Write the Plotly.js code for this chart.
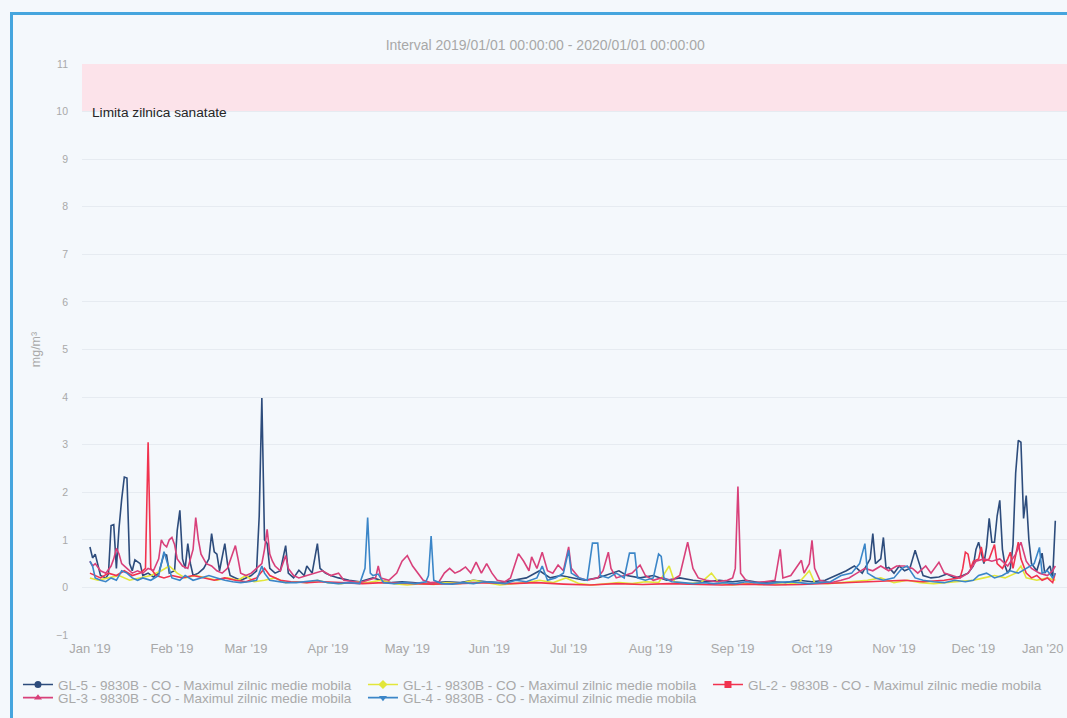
<!DOCTYPE html>
<html>
<head>
<meta charset="utf-8">
<script src="https://cdn.plot.ly/plotly-3.0.1.min.js"></script>
<style>
html,body{margin:0;padding:0;background:#f4f8fc;}
#chart{position:absolute;left:0;top:0;width:1067px;height:718px;}
#frame{position:absolute;left:10px;top:12px;width:1100px;height:760px;border-left:3px solid #45a5de;border-top:3px solid #45a5de;pointer-events:none;}
</style>
</head>
<body>
<div id="chart"></div>
<div id="frame"></div>
<script>
// ---------- DATA ----------
const seriesNames = [
  "GL-5 - 9830B - CO - Maximul zilnic medie mobila",
  "GL-1 - 9830B - CO - Maximul zilnic medie mobila",
  "GL-2 - 9830B - CO - Maximul zilnic medie mobila",
  "GL-3 - 9830B - CO - Maximul zilnic medie mobila",
  "GL-4 - 9830B - CO - Maximul zilnic medie mobila"
];

const monthTickDates = ["2019-01-01","2019-02-01","2019-03-01","2019-04-01","2019-05-01","2019-06-01","2019-07-01","2019-08-01","2019-09-01","2019-10-01","2019-11-01","2019-12-01","2020-01-01"];
const monthTickLabels = ["Jan '19","Feb '19","Mar '19","Apr '19","May '19","Jun '19","Jul '19","Aug '19","Sep '19","Oct '19","Nov '19","Dec '19","Jan '20"];

const gl5Dates = ["2019-01-01","2019-01-02","2019-01-03","2019-01-04","2019-01-05","2019-01-07","2019-01-08","2019-01-09","2019-01-10","2019-01-11","2019-01-12","2019-01-13","2019-01-14","2019-01-15","2019-01-16","2019-01-17","2019-01-18","2019-01-20","2019-01-21","2019-01-23","2019-01-25","2019-01-27","2019-01-29","2019-01-30","2019-01-31","2019-02-02","2019-02-03","2019-02-04","2019-02-05","2019-02-06","2019-02-07","2019-02-08","2019-02-09","2019-02-11","2019-02-13","2019-02-15","2019-02-16","2019-02-17","2019-02-18","2019-02-19","2019-02-21","2019-02-22","2019-02-23","2019-02-25","2019-02-27","2019-03-01","2019-03-03","2019-03-05","2019-03-06","2019-03-07","2019-03-08","2019-03-09","2019-03-10","2019-03-12","2019-03-14","2019-03-16","2019-03-17","2019-03-19","2019-03-21","2019-03-23","2019-03-24","2019-03-26","2019-03-28","2019-03-29","2019-03-31","2019-04-02","2019-04-05","2019-04-09","2019-04-13","2019-04-18","2019-04-21","2019-04-25","2019-04-29","2019-05-03","2019-05-07","2019-05-12","2019-05-16","2019-05-21","2019-05-26","2019-05-31","2019-06-05","2019-06-10","2019-06-15","2019-06-20","2019-06-24","2019-06-28","2019-07-03","2019-07-07","2019-07-12","2019-07-17","2019-07-20","2019-07-23","2019-07-28","2019-08-02","2019-08-07","2019-08-12","2019-08-17","2019-08-22","2019-08-27","2019-09-01","2019-09-06","2019-09-11","2019-09-16","2019-09-21","2019-09-26","2019-10-01","2019-10-06","2019-10-10","2019-10-14","2019-10-17","2019-10-20","2019-10-23","2019-10-24","2019-10-25","2019-10-27","2019-10-28","2019-10-29","2019-10-30","2019-11-01","2019-11-03","2019-11-05","2019-11-07","2019-11-09","2019-11-10","2019-11-12","2019-11-15","2019-11-18","2019-11-21","2019-11-24","2019-11-27","2019-11-29","2019-12-01","2019-12-02","2019-12-03","2019-12-04","2019-12-05","2019-12-06","2019-12-07","2019-12-08","2019-12-09","2019-12-10","2019-12-11","2019-12-12","2019-12-13","2019-12-14","2019-12-15","2019-12-16","2019-12-17","2019-12-18","2019-12-19","2019-12-20","2019-12-21","2019-12-22","2019-12-23","2019-12-25","2019-12-27","2019-12-28","2019-12-30","2019-12-31","2020-01-01"];
const gl5Values = [0.85,0.62,0.70,0.45,0.25,0.20,0.28,1.30,1.32,0.40,1.25,1.85,2.32,2.30,0.50,0.35,0.58,0.50,0.25,0.30,0.22,0.30,0.70,0.68,0.30,0.35,1.20,1.62,0.60,0.40,0.92,0.50,0.25,0.30,0.40,0.60,1.13,0.75,0.70,0.35,0.92,0.50,0.25,0.20,0.15,0.20,0.25,0.35,1.50,3.98,1.00,0.92,0.40,0.30,0.35,0.88,0.30,0.20,0.36,0.25,0.45,0.30,0.92,0.40,0.30,0.25,0.20,0.15,0.12,0.20,0.15,0.10,0.12,0.10,0.08,0.10,0.12,0.10,0.15,0.12,0.10,0.15,0.20,0.35,0.20,0.25,0.20,0.15,0.20,0.30,0.35,0.25,0.20,0.25,0.15,0.20,0.15,0.12,0.15,0.12,0.15,0.10,0.12,0.10,0.15,0.12,0.15,0.25,0.35,0.45,0.30,0.60,1.13,0.50,0.60,1.05,0.40,0.42,0.30,0.45,0.35,0.40,0.78,0.60,0.25,0.20,0.22,0.28,0.20,0.25,0.30,0.45,0.80,0.95,0.70,0.50,0.85,1.45,0.95,0.95,1.50,1.83,0.80,0.45,0.30,0.40,0.90,2.40,3.09,3.05,1.45,1.93,1.00,0.50,0.35,0.72,0.30,0.45,0.20,1.40];

const gl1Dates = ["2019-01-01","2019-01-04","2019-01-08","2019-01-12","2019-01-16","2019-01-20","2019-01-24","2019-01-28","2019-01-31","2019-02-03","2019-02-06","2019-02-10","2019-02-14","2019-02-18","2019-02-22","2019-02-26","2019-03-01","2019-03-04","2019-03-08","2019-03-12","2019-03-16","2019-03-20","2019-03-24","2019-03-28","2019-04-01","2019-04-06","2019-04-11","2019-04-16","2019-04-21","2019-04-26","2019-05-01","2019-05-06","2019-05-11","2019-05-16","2019-05-21","2019-05-26","2019-05-31","2019-06-05","2019-06-10","2019-06-15","2019-06-20","2019-06-25","2019-06-30","2019-07-05","2019-07-10","2019-07-15","2019-07-20","2019-07-25","2019-07-30","2019-08-04","2019-08-08","2019-08-10","2019-08-15","2019-08-20","2019-08-24","2019-08-27","2019-09-01","2019-09-06","2019-09-11","2019-09-16","2019-09-21","2019-09-26","2019-09-30","2019-10-02","2019-10-07","2019-10-12","2019-10-17","2019-10-22","2019-10-27","2019-11-01","2019-11-06","2019-11-11","2019-11-16","2019-11-21","2019-11-26","2019-12-01","2019-12-05","2019-12-09","2019-12-13","2019-12-17","2019-12-19","2019-12-21","2019-12-25","2019-12-29","2020-01-01"];
const gl1Values = [0.20,0.15,0.20,0.25,0.15,0.20,0.25,0.35,0.45,0.30,0.20,0.25,0.20,0.15,0.20,0.15,0.25,0.12,0.15,0.20,0.10,0.12,0.10,0.15,0.10,0.08,0.12,0.10,0.15,0.08,0.05,0.08,0.06,0.10,0.08,0.15,0.10,0.05,0.08,0.10,0.15,0.10,0.20,0.08,0.05,0.08,0.10,0.08,0.12,0.10,0.45,0.12,0.08,0.10,0.30,0.08,0.05,0.08,0.06,0.08,0.06,0.10,0.35,0.10,0.08,0.10,0.12,0.15,0.20,0.10,0.15,0.10,0.08,0.10,0.12,0.15,0.20,0.25,0.20,0.30,0.45,0.20,0.15,0.20,0.15];

const gl2Dates = ["2019-01-01","2019-01-03","2019-01-05","2019-01-08","2019-01-11","2019-01-14","2019-01-17","2019-01-20","2019-01-22","2019-01-23","2019-01-24","2019-01-26","2019-01-29","2019-02-01","2019-02-05","2019-02-09","2019-02-13","2019-02-17","2019-02-21","2019-02-25","2019-03-01","2019-03-05","2019-03-08","2019-03-10","2019-03-14","2019-03-18","2019-03-24","2019-03-30","2019-04-06","2019-04-14","2019-04-22","2019-05-01","2019-05-10","2019-05-20","2019-05-30","2019-06-09","2019-06-19","2019-06-29","2019-07-09","2019-07-19","2019-07-29","2019-08-08","2019-08-18","2019-08-28","2019-09-07","2019-09-17","2019-09-27","2019-10-07","2019-10-17","2019-10-27","2019-11-05","2019-11-12","2019-11-20","2019-11-26","2019-11-27","2019-11-28","2019-11-29","2019-11-30","2019-12-01","2019-12-03","2019-12-04","2019-12-05","2019-12-07","2019-12-08","2019-12-09","2019-12-10","2019-12-12","2019-12-14","2019-12-15","2019-12-16","2019-12-17","2019-12-18","2019-12-19","2019-12-21","2019-12-23","2019-12-25","2019-12-27","2019-12-29","2019-12-31","2020-01-01"];
const gl2Values = [0.30,0.25,0.20,0.30,0.25,0.35,0.25,0.30,0.40,3.05,0.40,0.25,0.20,0.25,0.20,0.25,0.20,0.15,0.20,0.15,0.12,0.20,0.40,0.25,0.15,0.12,0.10,0.12,0.10,0.08,0.10,0.08,0.07,0.08,0.10,0.08,0.10,0.07,0.05,0.08,0.06,0.08,0.06,0.05,0.07,0.05,0.06,0.08,0.10,0.12,0.15,0.12,0.15,0.20,0.40,0.74,0.70,0.40,0.55,0.60,0.85,0.55,0.60,0.75,0.90,0.50,0.40,0.60,0.74,0.40,0.70,0.95,0.60,0.30,0.20,0.25,0.15,0.20,0.10,0.30];

const gl3Dates = ["2019-01-01","2019-01-02","2019-01-03","2019-01-05","2019-01-07","2019-01-09","2019-01-10","2019-01-11","2019-01-12","2019-01-13","2019-01-15","2019-01-17","2019-01-19","2019-01-21","2019-01-23","2019-01-25","2019-01-27","2019-01-28","2019-01-29","2019-01-30","2019-01-31","2019-02-01","2019-02-02","2019-02-03","2019-02-05","2019-02-07","2019-02-09","2019-02-10","2019-02-11","2019-02-12","2019-02-14","2019-02-16","2019-02-18","2019-02-20","2019-02-22","2019-02-25","2019-02-26","2019-02-27","2019-03-01","2019-03-03","2019-03-05","2019-03-07","2019-03-08","2019-03-09","2019-03-10","2019-03-11","2019-03-12","2019-03-14","2019-03-16","2019-03-17","2019-03-19","2019-03-21","2019-03-24","2019-03-27","2019-03-30","2019-04-02","2019-04-05","2019-04-07","2019-04-10","2019-04-13","2019-04-16","2019-04-19","2019-04-20","2019-04-21","2019-04-24","2019-04-27","2019-04-29","2019-05-01","2019-05-03","2019-05-05","2019-05-07","2019-05-10","2019-05-13","2019-05-15","2019-05-17","2019-05-19","2019-05-21","2019-05-23","2019-05-25","2019-05-27","2019-05-29","2019-05-31","2019-06-02","2019-06-04","2019-06-07","2019-06-09","2019-06-12","2019-06-14","2019-06-16","2019-06-17","2019-06-19","2019-06-21","2019-06-23","2019-06-25","2019-06-27","2019-06-29","2019-07-01","2019-07-02","2019-07-05","2019-07-08","2019-07-12","2019-07-14","2019-07-16","2019-07-17","2019-07-19","2019-07-22","2019-07-25","2019-07-28","2019-07-30","2019-08-02","2019-08-05","2019-08-09","2019-08-12","2019-08-15","2019-08-17","2019-08-19","2019-08-22","2019-08-26","2019-08-30","2019-09-01","2019-09-02","2019-09-03","2019-09-04","2019-09-06","2019-09-09","2019-09-13","2019-09-17","2019-09-19","2019-09-20","2019-09-23","2019-09-25","2019-09-27","2019-09-28","2019-09-30","2019-10-01","2019-10-02","2019-10-04","2019-10-08","2019-10-12","2019-10-15","2019-10-18","2019-10-21","2019-10-24","2019-10-27","2019-10-30","2019-11-02","2019-11-05","2019-11-08","2019-11-10","2019-11-13","2019-11-15","2019-11-18","2019-11-20","2019-11-23","2019-11-26","2019-11-29","2019-12-02","2019-12-05","2019-12-08","2019-12-11","2019-12-14","2019-12-17","2019-12-19","2019-12-21","2019-12-23","2019-12-26","2019-12-29","2019-12-31","2020-01-01"];
const gl3Values = [0.55,0.45,0.50,0.35,0.30,0.45,0.60,0.82,0.70,0.50,0.40,0.30,0.35,0.30,0.40,0.35,0.60,1.00,0.90,0.85,1.00,1.05,0.90,0.60,0.45,0.40,0.80,1.47,1.00,0.70,0.50,0.45,0.35,0.30,0.40,0.88,0.60,0.30,0.25,0.30,0.40,0.50,0.80,1.22,0.70,0.55,0.45,0.35,0.67,0.40,0.25,0.20,0.25,0.30,0.35,0.25,0.30,0.15,0.12,0.10,0.15,0.20,0.45,0.20,0.15,0.30,0.55,0.67,0.45,0.30,0.15,0.10,0.12,0.30,0.40,0.30,0.35,0.43,0.30,0.53,0.30,0.50,0.30,0.15,0.12,0.20,0.71,0.55,0.35,0.64,0.40,0.74,0.35,0.30,0.47,0.35,0.85,0.40,0.20,0.15,0.20,0.35,0.74,0.40,0.20,0.25,0.30,0.47,0.25,0.15,0.20,0.15,0.25,0.95,0.40,0.20,0.15,0.12,0.15,0.20,0.40,2.12,0.30,0.15,0.10,0.12,0.15,0.80,0.20,0.25,0.40,0.57,0.30,0.50,0.99,0.40,0.15,0.10,0.15,0.20,0.30,0.40,0.35,0.45,0.35,0.45,0.45,0.40,0.30,0.45,0.30,0.53,0.30,0.25,0.20,0.30,0.55,0.60,0.55,0.60,0.45,0.70,0.95,0.55,0.40,0.30,0.25,0.35,0.45];

const gl4Dates = ["2019-01-01","2019-01-02","2019-01-03","2019-01-05","2019-01-07","2019-01-09","2019-01-11","2019-01-13","2019-01-15","2019-01-17","2019-01-19","2019-01-21","2019-01-24","2019-01-27","2019-01-29","2019-01-30","2019-02-01","2019-02-04","2019-02-06","2019-02-09","2019-02-12","2019-02-15","2019-02-18","2019-02-21","2019-02-24","2019-02-27","2019-03-02","2019-03-05","2019-03-07","2019-03-08","2019-03-10","2019-03-13","2019-03-16","2019-03-20","2019-03-24","2019-03-28","2019-04-01","2019-04-05","2019-04-09","2019-04-13","2019-04-15","2019-04-16","2019-04-17","2019-04-18","2019-04-20","2019-04-22","2019-04-26","2019-04-30","2019-05-04","2019-05-08","2019-05-09","2019-05-10","2019-05-11","2019-05-14","2019-05-18","2019-05-22","2019-05-26","2019-05-30","2019-06-03","2019-06-07","2019-06-11","2019-06-15","2019-06-19","2019-06-21","2019-06-23","2019-06-26","2019-06-29","2019-07-01","2019-07-02","2019-07-05","2019-07-08","2019-07-10","2019-07-12","2019-07-13","2019-07-16","2019-07-19","2019-07-22","2019-07-24","2019-07-26","2019-07-27","2019-07-30","2019-08-02","2019-08-04","2019-08-05","2019-08-06","2019-08-09","2019-08-13","2019-08-17","2019-08-21","2019-08-25","2019-08-29","2019-09-02","2019-09-06","2019-09-10","2019-09-14","2019-09-18","2019-09-22","2019-09-26","2019-09-30","2019-10-04","2019-10-08","2019-10-12","2019-10-16","2019-10-19","2019-10-21","2019-10-22","2019-10-25","2019-10-28","2019-11-01","2019-11-04","2019-11-06","2019-11-09","2019-11-12","2019-11-16","2019-11-20","2019-11-24","2019-11-28","2019-12-01","2019-12-03","2019-12-06","2019-12-09","2019-12-12","2019-12-15","2019-12-18","2019-12-21","2019-12-24","2019-12-26","2019-12-27","2019-12-29","2019-12-31","2020-01-01"];
const gl4Values = [0.55,0.45,0.20,0.15,0.12,0.20,0.15,0.35,0.30,0.20,0.15,0.20,0.15,0.25,0.75,0.55,0.20,0.15,0.25,0.15,0.20,0.25,0.20,0.15,0.12,0.10,0.12,0.15,0.45,0.30,0.15,0.12,0.10,0.10,0.12,0.15,0.10,0.08,0.10,0.08,0.40,1.47,0.30,0.25,0.28,0.10,0.08,0.10,0.08,0.12,0.25,1.08,0.15,0.08,0.07,0.10,0.08,0.12,0.10,0.08,0.15,0.12,0.20,0.45,0.15,0.20,0.30,0.78,0.30,0.20,0.15,0.93,0.93,0.25,0.20,0.30,0.20,0.72,0.72,0.20,0.15,0.20,0.70,0.65,0.20,0.12,0.10,0.08,0.10,0.08,0.10,0.08,0.12,0.10,0.08,0.10,0.12,0.10,0.08,0.10,0.12,0.25,0.30,0.50,0.92,0.30,0.20,0.15,0.20,0.40,0.45,0.20,0.15,0.12,0.10,0.15,0.12,0.15,0.25,0.30,0.20,0.25,0.35,0.30,0.40,0.50,0.84,0.30,0.35,0.20,0.30];

const seriesDates = [gl5Dates, gl1Dates, gl2Dates, gl3Dates, gl4Dates];
const seriesValues = [gl5Values, gl1Values, gl2Values, gl3Values, gl4Values];
const seriesColors = ["#2d4c7c", "#e2e63a", "#f1334f", "#d8407a", "#3b86c8"];
const seriesSymbols = ["circle", "diamond", "square", "triangle-up", "triangle-down"];
const seriesLegend = ["legend", "legend", "legend", "legend2", "legend2"];

const limitLow = 10, limitHigh = 11;
const limitLabel = "Limita zilnica sanatate";
const chartTitle = "Interval 2019/01/01 00:00:00 - 2020/01/01 00:00:00";
const yTitle = "mg/m³";

// ---------- TRACES ----------
const FONT = "Liberation Sans, Arial, sans-serif";
const TICKCOLOR = "#a9a9a9";
const traces = [];
seriesNames.forEach((name, i) => {
  traces.push({
    type: "scatter", mode: "lines", name: name,
    x: seriesDates[i], y: seriesValues[i],
    line: {color: seriesColors[i], width: 1.6},
    legendgroup: "g" + i, showlegend: false, hoverinfo: "x+y"
  });
});
seriesNames.forEach((name, i) => {
  traces.push({
    type: "scatter", mode: "lines+markers", name: name,
    x: [null], y: [null],
    line: {color: seriesColors[i], width: 1.6},
    marker: {color: seriesColors[i], symbol: seriesSymbols[i], size: 7},
    legendgroup: "g" + i, legend: seriesLegend[i], showlegend: true
  });
});

const legendCommon = {
  orientation: "h", xanchor: "left", yanchor: "top",
  x: -0.065, entrywidth: 300, entrywidthmode: "pixels",
  font: {family: FONT, size: 13.5, color: TICKCOLOR},
  bgcolor: "rgba(0,0,0,0)", borderwidth: 0, itemclick: false
};

// last month label is justified inward so it stays inside the page
const nTicks = monthTickDates.length;
const layout = {
  width: 1067, height: 718,
  margin: {l: 82, r: 0, t: 64, b: 83},
  paper_bgcolor: "#f4f8fc", plot_bgcolor: "#f4f8fc",
  font: {family: FONT, color: "#a0a0a0"},
  title: {text: chartTitle, x: 0.511, xanchor: "center", y: 1 - 45/718, yanchor: "middle",
          font: {family: FONT, size: 14, color: "#a8a8a8"}},
  xaxis: {
    type: "date", range: ["2018-12-29", "2020-01-05 10:00"],
    tickmode: "array",
    tickvals: monthTickDates.slice(0, nTicks - 1),
    ticktext: monthTickLabels.slice(0, nTicks - 1),
    showgrid: false, zeroline: false, showline: false, ticks: "",
    ticklabelstandoff: 4,
    tickfont: {family: FONT, size: 13, color: TICKCOLOR}
  },
  yaxis: {
    range: [-1, 11], dtick: 1, tick0: 0,
    gridcolor: "#e6ebf1", gridwidth: 1, zeroline: false, showline: false, ticks: "",
    ticklabelstandoff: 13,
    tickfont: {family: FONT, size: 10.5, color: TICKCOLOR},
    title: {text: yTitle, standoff: 12, font: {family: FONT, size: 12.5, color: TICKCOLOR}}
  },
  shapes: [{
    type: "rect", xref: "paper", x0: 0, x1: 1, yref: "y", y0: limitLow, y1: limitHigh,
    fillcolor: "#fce3ea", line: {width: 0}, layer: "below"
  }],
  annotations: [{
    text: limitLabel, xref: "paper", x: 8/985, xanchor: "left",
    yref: "y", y: limitLow, yanchor: "middle", yshift: -1, showarrow: false,
    font: {family: FONT, size: 13.7, color: "#262626"}
  }, {
    text: monthTickLabels[nTicks - 1], xref: "paper", x: 1, xanchor: "right", xshift: -1,
    yref: "paper", y: -(648 - 635) / 571, yanchor: "middle", showarrow: false,
    font: {family: FONT, size: 13, color: TICKCOLOR}
  }],
  legend: Object.assign({}, legendCommon, {y: -0.060}),
  legend2: Object.assign({}, legendCommon, {y: -0.083}),
  showlegend: true
};

Plotly.newPlot("chart", traces, layout, {displayModeBar: false, staticPlot: false});
</script>
</body>
</html>
